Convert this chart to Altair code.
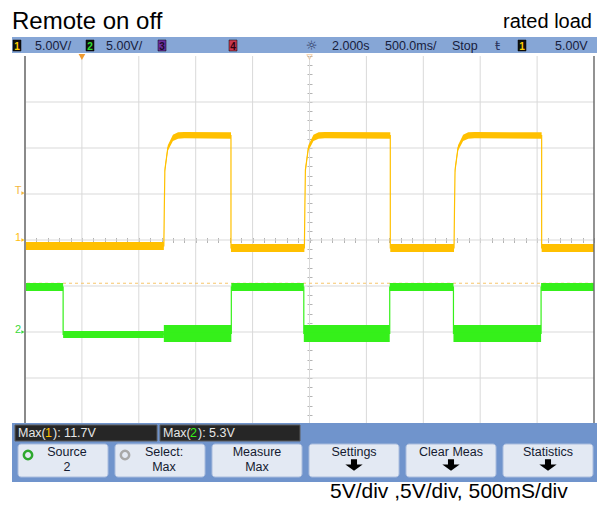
import altair as alt
import pandas as pd

# ---------------- values ----------------
# Channel 1 (yellow): time [s], level [V], half width of the noise band [V]
ch1_t = [-0.5, 0.72, 0.724, 0.729, 0.755, 0.80, 0.845, 0.90, 1.31, 1.31,
         1.955, 1.959, 1.964, 1.99, 2.035, 2.08, 2.135, 2.71, 2.71,
         3.27, 3.274, 3.279, 3.305, 3.35, 3.395, 3.45, 4.04, 4.04, 4.5]
ch1_v = [-0.65, -0.65, 3.3, 7.6, 10.0, 11.1, 11.35, 11.4, 11.35, -0.87,
         -0.87, 3.3, 7.6, 10.0, 11.1, 11.35, 11.4, 11.35, -0.87,
         -0.87, 3.3, 7.6, 10.0, 11.1, 11.35, 11.4, 11.35, -0.87, -0.87]
ch1_n = [0.43, 0.43, 0.3, 0.3, 0.3, 0.33, 0.35, 0.35, 0.35, 0.43,
         0.43, 0.3, 0.3, 0.3, 0.33, 0.35, 0.35, 0.35, 0.43,
         0.43, 0.3, 0.3, 0.3, 0.33, 0.35, 0.35, 0.35, 0.43, 0.43]

# Channel 2 (green)
ch2_t = [-0.5, -0.165, -0.165, 0.72, 0.72, 1.313, 1.313, 1.95, 1.95,
         2.705, 2.705, 3.265, 3.265, 4.035, 4.035, 4.5]
ch2_v = [4.89, 4.89, -0.27, -0.27, -0.16, -0.16, 4.89, 4.89, -0.16,
         -0.16, 4.89, 4.89, -0.16, -0.16, 4.89, 4.89]
ch2_n = [0.43, 0.43, 0.38, 0.38, 0.92, 0.92, 0.43, 0.43, 0.92,
         0.92, 0.43, 0.43, 0.92, 0.92, 0.43, 0.43]

volts_per_div = [5.0, 5.0]        # ch1, ch2
ground_div = [0.0, -2.0]          # ground markers, divisions from centre
trig_level_v = 5.1                # "T" marker, ch1 volts
dashed_level_div = [-0.94]        # orange dashed level line
time_grid = [0.0, 0.5, 1.0, 1.5, 2.0, 2.5, 3.0, 3.5, 4.0]
time_edges = [-0.5, 4.5]
div_grid = [-3, -2, -1, 0, 1, 2, 3]
trigger_time = [0.0]
delay_time = [2.0]

title_left = "Remote on off"
title_right = "rated load"
footer = "5V/div ,5V/div, 500mS/div"

bar_labels = ["5.00V/", "5.00V/", "2.000s", "500.0ms/", "Stop", "5.00V"]
chan_boxes = ["1", "2", "3", "4", "1"]
meas_chan = ["1", "2"]
meas_value = ["11.7V", "5.3V"]
btn_top = ["Source", "Select:", "Measure", "Settings", "Clear Meas", "Statistics"]
btn_bottom = ["2", "Max", "Max", "", "", ""]

YEL = "#FFC000"
GRN = "#35F01A"
UI = "Liberation Sans"
SANS = "Liberation Sans"

W, H = 569, 368

# ---------------- frames ----------------
def trace_frame(t, v, n, vdiv, off):
    rows, seg = [], 0
    for i in range(len(t)):
        if i > 0 and t[i] == t[i - 1]:
            seg += 1
        rows.append(dict(i=i, seg=seg, t=t[i], d=v[i] / vdiv + off,
                         top=(v[i] + n[i]) / vdiv + off,
                         bot=(v[i] - n[i]) / vdiv + off))
    return pd.DataFrame(rows)

df1 = trace_frame(ch1_t, ch1_v, ch1_n, volts_per_div[0], ground_div[0])
df2 = trace_frame(ch2_t, ch2_v, ch2_n, volts_per_div[1], ground_div[1])

xscale = alt.Scale(domain=[-0.5, 4.5], nice=False, zero=False)
yscale = alt.Scale(domain=[-4, 4], nice=False, zero=False)
ax_x = alt.Axis(orient="bottom", offset=-(H / 2 + 2.5), tickCount=50, labels=False,
                domain=False, grid=False, tickSize=5, tickColor="#b4b4b4", title=None)
ax_y = alt.Axis(orient="left", offset=-(W * 0.5 + 2.5), tickCount=40, labels=False,
                domain=False, grid=False, tickSize=5, tickColor="#b4b4b4", title=None)


def X(f="t"):
    return alt.X(f"{f}:Q", scale=xscale, axis=ax_x, title=None)


def Y(f="d"):
    return alt.Y(f"{f}:Q", scale=yscale, axis=ax_y, title=None)


def PX(f):
    return alt.X(f"{f}:Q", scale=None, axis=None)


def PY(f):
    return alt.Y(f"{f}:Q", scale=None, axis=None)


layers = []

# grid
layers.append(alt.Chart(pd.DataFrame({"t": time_grid})).mark_rule(color="#d9d9d9", strokeWidth=1).encode(x=X()))
layers.append(alt.Chart(pd.DataFrame({"d": div_grid})).mark_rule(color="#d9d9d9", strokeWidth=1).encode(y=Y()))
layers.append(alt.Chart(pd.DataFrame({"d": dashed_level_div})).mark_rule(
    color="#F7C56A", strokeWidth=1, strokeDash=[3, 3]).encode(y=Y()))

# traces
for df, col in ((df2, GRN), (df1, YEL)):
    layers.append(alt.Chart(df).mark_area(color=col, opacity=1).encode(
        x=X(), y=Y("top"), y2="bot:Q", detail="seg:N"))
    layers.append(alt.Chart(df).mark_line(color=col, strokeWidth=1.2).encode(
        x=X(), y=Y(), order="i:Q"))

# screen borders
edges = pd.DataFrame({"t": time_edges, "c": ["#8a8a8a", "#6e6e6e"], "w": [2, 1.5]})
layers.append(alt.Chart(edges).mark_rule().encode(
    x=X(), color=alt.Color("c:N", scale=None), strokeWidth=alt.StrokeWidth("w:Q", scale=None)))

# ---------------- top status bar ----------------
layers.append(alt.Chart(pd.DataFrame({"a": [0]})).mark_rect(color="#86A6D6").encode(
    x=alt.value(-13), x2=alt.value(572), y=alt.value(-19), y2=alt.value(-3)))
bar_x = [10, 81, 307, 360, 427, 530]
layers.append(alt.Chart(pd.DataFrame({"x": bar_x, "y": [-6] * 6, "s": bar_labels})).mark_text(
    align="left", baseline="alphabetic", font=UI, fontSize=12.5, color="#17203d").encode(
    x=PX("x"), y=PY("y"), text="s:N"))
box_x = [-12, 61, 133, 204, 493]
box_fill = ["#111111", "#111111", "#6A2FA0", "#C8384F", "#111111"]
box_glyph = ["#FFD000", "#30E030", "#1a0a2a", "#300010", "#FFD000"]
bx = pd.DataFrame({"x0": box_x, "x1": [v + 8 for v in box_x], "xc": [v + 4 for v in box_x],
                   "fill": box_fill, "g": box_glyph, "s": chan_boxes})
layers.append(alt.Chart(bx).mark_rect(stroke="#000000", strokeWidth=0.5).encode(
    x=PX("x0"), x2="x1:Q", y=alt.value(-16), y2=alt.value(-5), color=alt.Color("fill:N", scale=None)))
layers.append(alt.Chart(bx).mark_text(font=UI, fontSize=10, fontWeight="bold", baseline="alphabetic").encode(
    x=PX("xc"), y=alt.value(-6.5), text="s:N", color=alt.Color("g:N", scale=None)))
icons = pd.DataFrame({"x": [286.5, 472.5], "s": ["☼", "ŧ"]})
layers.append(alt.Chart(icons).mark_text(font="DejaVu Sans", fontSize=13, color="#2a3560", baseline="alphabetic").encode(
    x=PX("x"), y=alt.value(-6), text="s:N"))

# top markers (trigger point and delay reference)
layers.append(alt.Chart(pd.DataFrame({"t": trigger_time})).mark_point(
    shape="triangle-down", filled=True, color="#F09A30", size=45, opacity=1).encode(x=X(), y=alt.value(1)))
layers.append(alt.Chart(pd.DataFrame({"t": delay_time})).mark_point(
    shape="triangle-down", filled=False, color="#F3C08A", size=30, strokeWidth=1).encode(x=X(), y=alt.value(1)))

# left ground / trigger markers
marks = pd.DataFrame({"d": [trig_level_v / volts_per_div[0] + ground_div[0], ground_div[0], ground_div[1]],
                      "s": ["T", "1", "2"], "c": ["#F4B73E", "#FFBE10", "#3AD83A"]})
layers.append(alt.Chart(marks).mark_text(font=UI, fontSize=11, align="center", baseline="middle", dy=-2).encode(
    x=alt.value(-7), y=Y(), text="s:N", color=alt.Color("c:N", scale=None)))
layers.append(alt.Chart(marks).mark_point(shape="triangle-right", filled=True, size=14, opacity=1).encode(
    x=alt.value(-2), y=Y(), color=alt.Color("c:N", scale=None)))

# ---------------- bottom soft-key panel ----------------
layers.append(alt.Chart(pd.DataFrame({"a": [0]})).mark_rect(color="#7094CC").encode(
    x=alt.value(-13), x2=alt.value(572), y=alt.value(367), y2=alt.value(426)))
mb = pd.DataFrame({"x0": [-10, 135], "x1": [132, 275]})
layers.append(alt.Chart(mb).mark_rect(color="#262626", stroke="#5a5a5a", strokeWidth=1).encode(
    x=PX("x0"), x2="x1:Q", y=alt.value(369), y2=alt.value(385)))
mt_x, mt_s, mt_c = [], [], []
for k, base in enumerate([-7, 138]):
    mt_x += [base, base + 27, base + 35]
    mt_s += ["Max(", meas_chan[k], "): " + meas_value[k]]
    mt_c += ["#e6e6e6", YEL if k == 0 else GRN, "#e6e6e6"]
layers.append(alt.Chart(pd.DataFrame({"x": mt_x, "s": mt_s, "c": mt_c})).mark_text(
    align="left", baseline="alphabetic", font=UI, fontSize=12.5).encode(
    x=PX("x"), y=alt.value(381), text="s:N", color=alt.Color("c:N", scale=None)))

bl = [-7 + 97 * k for k in range(6)]
btn = pd.DataFrame({"x0": bl, "x1": [v + 90 for v in bl], "xc": [v + 45 + (4 if k < 2 else 0) for k, v in enumerate(bl)],
                    "top": btn_top, "bot": btn_bottom})
layers.append(alt.Chart(btn).mark_rect(color="#E3E9F3", stroke="#A9BCDD", strokeWidth=1, cornerRadius=3).encode(
    x=PX("x0"), x2="x1:Q", y=alt.value(388), y2=alt.value(421)))
layers.append(alt.Chart(btn).mark_text(font=UI, fontSize=12.5, color="#141a30", baseline="alphabetic").encode(
    x=PX("xc"), y=alt.value(399.5), text="top:N"))
layers.append(alt.Chart(btn).mark_text(font=UI, fontSize=12.5, color="#141a30", baseline="alphabetic").encode(
    x=PX("xc"), y=alt.value(414.5), text="bot:N"))
arrows = btn[btn["bot"] == ""]
layers.append(alt.Chart(arrows).mark_point(
    shape="M-0.35,-0.65L0.35,-0.65L0.35,-0.05L1,-0.05L0,0.65L-1,-0.05L-0.35,-0.05Z",
    filled=True, color="#000000", size=300, opacity=1).encode(x=PX("xc"), y=alt.value(409)))
ic = pd.DataFrame({"x": [bl[0] + 10, bl[1] + 10], "c": ["#2EA82E", "#A8A8A8"]})
layers.append(alt.Chart(ic).mark_point(shape="circle", filled=False, size=70, strokeWidth=2.5, opacity=1).encode(
    x=PX("x"), y=alt.value(399), color=alt.Color("c:N", scale=None)))

# ---------------- page texts ----------------
layers.append(alt.Chart(pd.DataFrame({"s": [title_left]})).mark_text(
    align="left", baseline="alphabetic", font=SANS, fontSize=24, color="#000000").encode(
    x=alt.value(-13), y=alt.value(-27), text="s:N"))
layers.append(alt.Chart(pd.DataFrame({"s": [title_right]})).mark_text(
    align="right", baseline="alphabetic", font=SANS, fontSize=20, color="#000000").encode(
    x=alt.value(567), y=alt.value(-28), text="s:N"))
layers.append(alt.Chart(pd.DataFrame({"s": [footer]})).mark_text(
    align="left", baseline="alphabetic", font=SANS, fontSize=21, color="#000000").encode(
    x=alt.value(305), y=alt.value(442), text="s:N"))

chart = alt.layer(*layers).properties(
    width=W, height=H,
    padding={"left": 17, "top": 48, "right": 10, "bottom": 78},
    autosize=alt.AutoSizeParams(type="none"),
    background="white",
).configure_view(stroke=None)

chart.save("out.html", embed_options={"renderer": "svg", "actions": False})
